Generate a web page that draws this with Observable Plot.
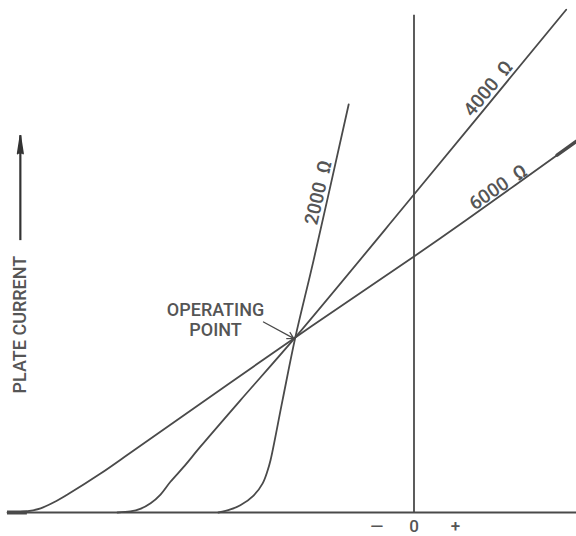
<!DOCTYPE html>
<html>
<head>
<meta charset="utf-8">
<script src="https://cdn.jsdelivr.net/npm/d3@7"></script>
<script src="https://cdn.jsdelivr.net/npm/@observablehq/plot@0.6"></script>
<style>
  html, body { margin: 0; padding: 0; background: #fff; }
</style>
</head>
<body>
<div id="chart"></div>
<script>
// Grid voltage (arbitrary units, 0 = zero bias) vs plate current (arbitrary units)
const grid6000 = [-98.3, -93.9, -90.3, -86.7, -83.8, -75.8, -67.8, -28.7, 0, 12.4, 39.3];
const curr6000 = [0, 0.2, 0.8, 2.15, 3.5, 7.6, 12.1, 34.2, 50.0, 57.0, 72.5];

const grid4000 = [-71.7, -68.6, -66.2, -63.7, -61.3, -58.9, -55.7, -51.6, -42.0, -28.7, 0, 36.8];
const curr4000 = [0, 0.2, 0.7, 1.8, 3.5, 6.0, 8.9, 12.9, 21.9, 34.2, 62.1, 98.2];

const grid2000 = [-47.3, -44.4, -42.0, -38.8, -36.6, -35.4, -34.7, -31.8, -28.7, -24.3, -15.8];
const curr2000 = [0, 0.6, 1.4, 3.3, 5.7, 8.2, 10.2, 21.9, 34.2, 49.2, 79.7];

const loadLabels = ["2000\u00a0\u00a0Ω", "4000\u00a0\u00a0Ω", "6000\u00a0\u00a0Ω"];
const labelGrid = [-23.1, 18.0, 20.4];
const labelCurr = [62.5, 82.8, 63.5];
const labelAngle = [-77, -50.5, -34];

const tickValues = [-9, 0, 10];
const tickLabels = ["—", "0", "+"];

const gridMin = -98.3, gridMax = 39.3, zeroAxisTop = 97.1;
const opLabel = {x: -48.0, y: 37.7, text: "OPERATING\nPOINT"};
const opArrow = {x1: -36.4, y1: 37.2, x2: -29.1, y2: 34.0};
const yLabel = {x: -95.2, y: 36.7, text: "PLATE CURRENT"};
const yArrow = {x: -95.2, y1: 53.1, y2: 73.6};
const thick6000 = [{x: 34.6, y: 69.8}, {x: 39.3, y: 72.5}];

const toRows = (xs, ys) => xs.map((x, i) => ({x, y: ys[i]}));
const c6000 = toRows(grid6000, curr6000);
const c4000 = toRows(grid4000, curr4000);
const c2000 = toRows(grid2000, curr2000);
const labels = loadLabels.map((t, i) => ({text: t, x: labelGrid[i], y: labelCurr[i], r: labelAngle[i]}));
const ticks = tickValues.map((v, i) => ({x: v, text: tickLabels[i]}));

const ink = "#4a4a4a";
const textInk = "#555";

const chart = Plot.plot({
  width: 576,
  height: 536,
  marginTop: 0,
  marginRight: 0,
  marginBottom: 24,
  marginLeft: 0,
  x: {domain: [-100, 39.3], axis: null},
  y: {domain: [0, 100], axis: null},
  style: {fontFamily: "Roboto, sans-serif", background: "#fff"},
  marks: [
    // baseline and zero-bias axis
    Plot.ruleY([0], {x1: gridMin, x2: gridMax, stroke: ink, strokeWidth: 1.8}),
    Plot.ruleY([0], {x1: gridMin, x2: -93.5, stroke: ink, strokeWidth: 4}),
    Plot.ruleX([0], {y1: 0, y2: zeroAxisTop, stroke: ink, strokeWidth: 1.8}),
    // load lines
    Plot.line(c6000, {x: "x", y: "y", curve: "catmull-rom", stroke: ink, strokeWidth: 1.8}),
    Plot.line(thick6000, {x: "x", y: "y", stroke: ink, strokeWidth: 3.5}),
    Plot.line(c4000, {x: "x", y: "y", curve: "catmull-rom", stroke: ink, strokeWidth: 1.8}),
    Plot.line(c2000, {x: "x", y: "y", curve: "catmull-rom", stroke: ink, strokeWidth: 1.8}),
    // load labels
    ...labels.map(d => Plot.text([d], {x: "x", y: "y", text: "text", rotate: d.r, fontSize: 19, fontWeight: 500, fill: textInk})),
    // operating point annotation
    Plot.text([opLabel], {x: "x", y: "y", text: "text", fontSize: 18, fontWeight: 500, lineHeight: 1.12, fill: textInk}),
    Plot.arrow([opArrow], {x1: "x1", y1: "y1", x2: "x2", y2: "y2", stroke: ink, strokeWidth: 1.3, headLength: 8}),
    // y label and arrow
    Plot.text([yLabel], {x: "x", y: "y", text: "text", rotate: -90, fontSize: 18, fontWeight: 500, fill: textInk}),
    Plot.ruleX([yArrow], {x: "x", y1: "y1", y2: "y2", stroke: "#333", strokeWidth: 2.2}),
    Plot.vector([yArrow], {x: "x", y: "y2", length: 18, rotate: 0, shape: "spike", r: 2.8, anchor: "end", stroke: "#333", fill: "#333"}),
    // tick labels
    Plot.text(ticks, {x: "x", y: () => 0, text: "text", dy: 14, fontSize: 17, fontWeight: 500, fill: textInk})
  ]
});
document.getElementById("chart").appendChild(chart);
</script>
</body>
</html>
